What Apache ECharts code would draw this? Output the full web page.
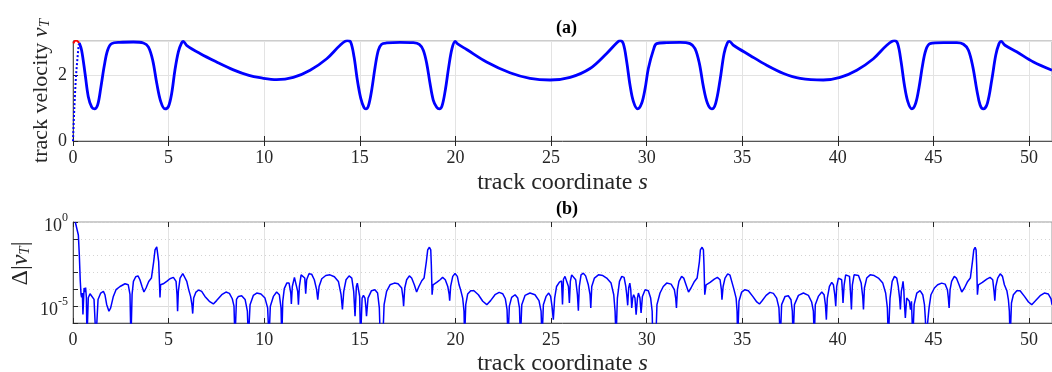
<!DOCTYPE html>
<html><head><meta charset="utf-8">
<script src="https://cdn.jsdelivr.net/npm/echarts@6/dist/echarts.min.js"></script>
<style>html,body{margin:0;padding:0;background:#fff}#c{width:1052px;height:372px}</style>
</head><body><div id="c"></div>
<script>
// ---------- panel (a): track velocity ----------
const sTop = [0.33,0.45,0.63,0.80,0.98,1.12,1.29,1.46,1.64,1.81,2.02,2.46,3.16,3.68,3.94,4.17,4.38,4.59,4.81,4.99,5.16,5.33,5.51,5.68,5.77,5.94,6.64,7.51,8.39,9.2,9.78,10.65,11.52,12.40,13.27,13.97,14.35,14.52,14.70,14.87,15.05,15.22,15.32,15.45,15.62,15.80,15.97,16.14,16.40,17.10,17.80,18.11,18.32,18.50,18.67,18.84,19.02,19.16,19.30,19.47,19.65,19.82,19.99,20.10,20.59,21.63,22.85,23.90,24.95,26.00,27.04,27.91,28.43,28.61,28.78,28.96,29.13,29.31,29.53,29.74,29.92,30.09,30.35,30.52,31.05,31.75,32.27,32.53,32.76,32.97,33.18,33.41,33.61,33.84,34.05,34.22,34.33,34.54,35.41,36.28,37.16,38.03,39.24,40.12,40.99,41.86,42.56,42.96,43.13,43.31,43.48,43.66,43.87,44.07,44.25,44.43,44.60,44.82,45.52,46.22,46.57,46.83,47.06,47.27,47.44,47.61,47.82,48.05,48.26,48.43,48.54,48.74,49.35,50.23,51.20];
const vTop = [2.99,2.77,2.06,1.35,1.03,0.98,1.10,1.65,2.31,2.77,2.97,3.01,3.02,2.99,2.87,2.46,1.76,1.20,0.98,1.05,1.45,2.16,2.72,2.99,3.04,2.92,2.67,2.41,2.17,2.00,1.93,1.87,1.94,2.16,2.51,2.92,3.06,3.02,2.56,1.86,1.30,1.02,0.98,1.07,1.55,2.26,2.77,2.95,2.99,3.01,3.00,2.95,2.77,2.36,1.76,1.25,1.03,0.98,1.07,1.55,2.26,2.82,3.04,2.97,2.79,2.41,2.08,1.91,1.86,1.94,2.21,2.67,2.99,3.06,2.97,2.41,1.71,1.20,0.98,1.15,1.60,2.21,2.77,2.97,3.00,3.01,2.97,2.82,2.36,1.65,1.15,0.98,1.15,1.86,2.67,2.99,3.04,2.92,2.61,2.31,2.06,1.91,1.86,1.94,2.16,2.51,2.92,3.06,2.97,2.41,1.71,1.20,0.98,1.15,1.65,2.31,2.77,2.97,3.00,3.00,2.95,2.77,2.26,1.55,1.10,0.98,1.15,1.86,2.62,2.97,3.04,2.92,2.72,2.41,2.16];
const sRed = [0.02,0.08,0.16,0.24,0.33];
const vRed = [2.98,3.04,3.07,3.04,2.99];
const sDot = [0,0.07,0.16,0.30];
const vDot = [0,1.0,2.0,2.95];

// ---------- panel (b): log10 of velocity error ----------
const sErr = [0.12,0.28,0.33,0.38,0.42,0.45,0.49,0.52,0.58,0.63,0.66,0.70,0.73,0.80,0.89,0.99,1.10,1.20,1.31,1.45,1.59,1.67,1.76,1.88,1.97,2.11,2.25,2.46,2.72,2.89,2.98,3.03,3.09,3.16,3.28,3.40,3.50,3.61,3.71,3.82,3.96,4.10,4.18,4.22,4.29,4.38,4.45,4.48,4.52,4.55,4.58,4.72,4.90,5.07,5.25,5.39,5.44,5.47,5.51,5.60,5.74,5.84,5.95,6.05,6.15,6.22,6.26,6.31,6.43,6.57,6.73,6.90,7.13,7.34,7.51,7.78,8.00,8.18,8.33,8.42,8.47,8.55,8.65,8.82,9.00,9.12,9.17,9.26,9.43,9.61,9.83,10.04,10.18,10.25,10.32,10.48,10.65,10.79,10.88,10.92,10.97,11.05,11.18,11.30,11.39,11.42,11.47,11.58,11.68,11.75,11.79,11.84,11.93,12.03,12.12,12.17,12.22,12.34,12.48,12.62,12.74,12.80,12.87,13.01,13.22,13.44,13.67,13.88,14.02,14.09,14.16,14.28,14.44,14.58,14.68,14.75,14.82,14.87,14.93,14.99,15.04,15.12,15.19,15.27,15.32,15.35,15.43,15.61,15.79,15.93,16.02,16.07,16.20,16.27,16.40,16.58,16.81,17.00,17.10,17.19,17.26,17.29,17.35,17.45,17.59,17.71,17.85,17.97,18.09,18.24,18.36,18.44,18.48,18.55,18.64,18.71,18.74,18.78,18.83,19.02,19.20,19.33,19.47,19.60,19.67,19.70,19.75,19.86,19.98,20.10,20.19,20.27,20.38,20.45,20.48,20.54,20.64,20.80,20.97,21.20,21.43,21.64,21.84,22.07,22.29,22.47,22.61,22.70,22.75,22.82,22.94,23.12,23.26,23.35,23.40,23.47,23.64,23.90,24.16,24.37,24.48,24.53,24.60,24.74,24.88,24.98,25.05,25.12,25.19,25.29,25.44,25.55,25.60,25.65,25.73,25.82,25.91,25.96,26.01,26.08,26.17,26.29,26.38,26.43,26.48,26.57,26.69,26.81,26.95,27.04,27.08,27.13,27.27,27.48,27.71,27.91,28.14,28.28,28.35,28.40,28.47,28.58,28.70,28.82,28.91,28.96,29.01,29.06,29.12,29.17,29.22,29.27,29.32,29.39,29.45,29.52,29.57,29.65,29.71,29.78,29.92,30.09,30.21,30.29,30.32,30.48,30.54,30.70,30.87,31.05,31.28,31.45,31.52,31.56,31.61,31.69,31.83,31.94,32.06,32.19,32.32,32.50,32.64,32.71,32.76,32.81,32.90,32.97,33.00,33.04,33.11,33.32,33.54,33.70,33.84,33.91,33.94,34.00,34.10,34.24,34.36,34.45,34.57,34.68,34.73,34.76,34.83,34.97,35.14,35.32,35.55,35.76,35.90,36.02,36.25,36.45,36.63,36.80,36.92,36.99,37.06,37.24,37.41,37.55,37.62,37.66,37.73,37.94,38.20,38.46,38.63,38.72,38.77,38.82,38.98,39.16,39.28,39.35,39.40,39.45,39.56,39.68,39.77,39.84,39.89,39.94,40.03,40.12,40.20,40.24,40.27,40.33,40.41,40.50,40.61,40.67,40.71,40.76,40.85,40.95,41.08,41.22,41.30,41.34,41.39,41.51,41.69,41.90,42.12,42.35,42.50,42.59,42.64,42.73,42.84,42.96,43.08,43.16,43.23,43.27,43.32,43.37,43.41,43.45,43.48,43.53,43.60,43.67,43.74,43.80,43.85,43.92,43.99,44.13,44.30,44.44,44.53,44.58,44.61,44.70,44.77,44.87,45.05,45.22,45.43,45.61,45.73,45.78,45.82,45.87,45.95,46.09,46.20,46.34,46.48,46.62,46.79,46.93,47.00,47.04,47.11,47.18,47.23,47.26,47.30,47.35,47.56,47.79,47.96,48.10,48.17,48.21,48.26,48.36,48.49,48.61,48.71,48.84,48.92,48.97,49.01,49.08,49.18,49.36,49.53,49.76,49.97,50.14,50.31,50.58,50.80,51.01,51.15,51.20];
const log10Err = [0.0,-0.77,-1.95,-3.5,-4.3,-4.48,-4.22,-5.5,-3.92,-4.16,-3.89,-4.5,-7,-4.5,-4.26,-4.32,-4.6,-7,-4.6,-4.22,-4.12,-4.32,-4.9,-5.3,-5.1,-4.42,-4.02,-3.83,-3.67,-3.73,-4.3,-7,-4.3,-3.53,-3.25,-3.2,-3.43,-3.83,-4.16,-3.92,-3.53,-3.33,-3.23,-2.35,-1.66,-1.48,-1.56,-2.35,-3.53,-4.48,-3.73,-3.67,-3.53,-3.37,-3.29,-3.53,-4.32,-5.3,-4.12,-3.33,-3.06,-3.14,-3.53,-4.02,-4.42,-4.91,-5.44,-4.52,-4.16,-4.04,-4.12,-4.42,-4.71,-4.87,-4.67,-4.32,-4.16,-4.24,-4.56,-5.0,-7,-4.6,-4.42,-4.38,-4.6,-5.3,-7,-4.91,-4.36,-4.22,-4.28,-4.52,-5.1,-7,-5.0,-4.42,-4.16,-4.32,-5.1,-7,-4.71,-3.96,-3.63,-3.63,-4.22,-4.87,-3.83,-3.29,-3.33,-4.12,-4.91,-3.83,-3.14,-3.04,-3.33,-4.26,-3.43,-3.08,-3.10,-3.43,-4.02,-4.62,-3.83,-3.37,-3.18,-3.14,-3.25,-3.53,-4.32,-5.2,-4.12,-3.43,-3.2,-3.33,-4.12,-5.6,-3.83,-3.63,-4.02,-4.42,-7,-4.52,-4.36,-4.52,-5.1,-5.6,-4.52,-4.08,-4.02,-4.22,-5.1,-7,-7,-4.91,-4.12,-3.73,-3.63,-3.67,-3.73,-3.92,-4.52,-5.0,-3.92,-3.43,-3.2,-3.33,-3.73,-4.16,-3.83,-3.49,-3.33,-3.23,-2.35,-1.66,-1.5,-1.66,-2.54,-4.32,-3.73,-3.59,-3.43,-3.29,-3.43,-3.83,-4.28,-4.67,-3.83,-3.23,-3.06,-3.23,-3.73,-4.02,-4.52,-5.3,-7,-4.91,-4.28,-4.08,-4.08,-4.32,-4.71,-4.91,-4.67,-4.32,-4.18,-4.26,-4.56,-5.2,-7,-5.0,-4.48,-4.32,-4.52,-5.1,-7,-4.91,-4.36,-4.22,-4.32,-4.67,-5.3,-7,-4.91,-4.42,-4.22,-4.42,-5.0,-5.8,-4.52,-3.83,-3.57,-3.5,-4.9,-3.4,-3.23,-3.33,-3.83,-4.81,-3.53,-3.14,-3.10,-3.43,-4.32,-5.27,-3.83,-3.14,-3.04,-3.20,-3.73,-4.32,-5.1,-3.83,-3.33,-3.14,-3.18,-3.33,-3.63,-4.32,-5.3,-7,-4.52,-3.53,-3.23,-3.29,-3.83,-4.32,-4.95,-3.92,-3.63,-4.02,-5.1,-4.52,-4.32,-4.52,-5.5,-4.52,-4.22,-4.52,-5.4,-4.42,-4.02,-4.08,-4.52,-5.3,-7,-7,-4.91,-4.22,-3.83,-3.63,-3.69,-4.02,-4.52,-5.1,-4.02,-3.53,-3.23,-3.33,-3.73,-4.16,-3.92,-3.53,-3.33,-3.23,-2.35,-1.66,-1.5,-1.66,-2.54,-4.32,-3.73,-3.59,-3.39,-3.29,-3.43,-4.02,-4.62,-3.83,-3.33,-3.08,-3.16,-3.53,-4.02,-4.52,-5.3,-7,-4.71,-4.16,-4.02,-4.08,-4.42,-4.75,-4.87,-4.71,-4.36,-4.18,-4.24,-4.52,-5.1,-7,-4.91,-4.42,-4.38,-4.62,-5.3,-7,-4.91,-4.36,-4.22,-4.36,-4.75,-5.3,-7,-4.91,-4.42,-4.16,-4.32,-4.91,-5.8,-4.52,-3.83,-3.59,-3.73,-4.32,-5.0,-3.83,-3.33,-3.23,-3.43,-4.12,-4.81,-3.73,-3.14,-3.04,-3.23,-4.32,-5.2,-3.73,-3.14,-3.04,-3.18,-3.63,-4.42,-5.2,-3.92,-3.33,-3.14,-3.18,-3.33,-3.63,-4.22,-5.1,-7,-4.52,-3.53,-3.23,-3.33,-3.83,-4.52,-5.2,-4.12,-3.83,-3.53,-4.02,-4.81,-5.7,-4.52,-4.42,-4.71,-5.2,-4.71,-7,-4.91,-4.22,-4.08,-4.32,-4.91,-5.8,-7,-7,-5.1,-4.32,-3.92,-3.73,-3.63,-3.69,-4.02,-4.52,-5.1,-4.02,-3.53,-3.23,-3.33,-3.73,-4.16,-3.92,-3.53,-3.33,-3.23,-2.35,-1.66,-1.5,-1.66,-2.54,-4.32,-3.73,-3.59,-3.39,-3.29,-3.43,-4.12,-4.67,-3.83,-3.33,-3.08,-3.23,-3.73,-4.08,-4.62,-5.3,-7,-4.81,-4.32,-4.08,-4.08,-4.42,-4.75,-4.91,-4.71,-4.38,-4.22,-4.28,-4.56,-4.91];

const xMax = 51.2;
const xTickStep = 5;
const vTickStep = 2;
const vMax = 3.05;

const zip = (a, b) => a.map((x, i) => [x, b[i]]);
const errPairs = sErr.map((s, i) => [s, Math.pow(10, log10Err[i])]);

const serif = 'Liberation Serif';
const ink = '#262626';
const gridCol = '#e3e3e3';

function xAx(grid, name, gap) {
  return {
    type: 'value', gridIndex: grid, min: 0, max: xMax, interval: xTickStep, position: 'bottom',
    axisLine: { show: true, onZero: false, lineStyle: { color: '#555', width: 1 } },
    axisTick: { show: true, inside: true, length: 5, lineStyle: { color: ink } },
    axisLabel: { showMaxLabel: false, fontFamily: serif, fontSize: 18, color: ink, margin: 8 },
    splitLine: { show: true, lineStyle: { color: gridCol, width: 1 } },
    name: name, nameLocation: 'middle', nameGap: gap,
    nameTextStyle: { rich: {
      n: { fontFamily: serif, fontSize: 24, color: ink },
      i: { fontFamily: serif, fontSize: 24, fontStyle: 'italic', color: ink } } }
  };
}
function xTop(grid) {
  return {
    type: 'value', gridIndex: grid, min: 0, max: xMax, interval: xTickStep, position: 'top',
    axisLine: { show: false }, axisLabel: { show: false }, splitLine: { show: false },
    axisTick: { show: true, inside: true, length: 5, lineStyle: { color: ink } }
  };
}

const supRich = {
  b: { fontFamily: serif, fontSize: 18, color: ink, padding: [8, 0, 0, 0] },
  e: { fontFamily: serif, fontSize: 12, color: ink, padding: [0, 0, 9, 0] }
};

const option = {
  animation: false,
  backgroundColor: '#fff',
  title: [
    { text: '(a)', left: 551, top: 14, textStyle: { fontFamily: serif, fontSize: 18, fontWeight: 'bold', color: '#000' } },
    { text: '(b)', left: 551, top: 195, textStyle: { fontFamily: serif, fontSize: 18, fontWeight: 'bold', color: '#000' } }
  ],
  grid: [
    { left: 73, top: 41, width: 979, height: 100, show: true, borderColor: '#9a9a9a', borderWidth: 1,
      backgroundColor: 'transparent', containLabel: false, outerBoundsMode: 'none' },
    { left: 73, top: 222, width: 979, height: 101, show: true, borderColor: '#9a9a9a', borderWidth: 1,
      backgroundColor: 'transparent', containLabel: false, outerBoundsMode: 'none' }
  ],
  xAxis: [
    xAx(0, '{n|track coordinate }{i|s}', 30),
    xAx(1, '{n|track coordinate }{i|s}', 29),
    xTop(0), xTop(1)
  ],
  yAxis: [
    {
      type: 'value', gridIndex: 0, min: 0, max: vMax, interval: vTickStep,
      axisLine: { show: true, lineStyle: { color: '#555' } },
      axisTick: { show: true, inside: true, length: 5, lineStyle: { color: ink } },
      axisLabel: { showMaxLabel: false, fontFamily: serif, fontSize: 18, color: ink, margin: 6 },
      splitLine: { show: true, lineStyle: { color: gridCol } },
      name: '{n|track velocity }{i|v}{t|T}', nameLocation: 'middle', nameGap: 20, nameRotate: 90,
      nameMoveOverlap: false,
      nameTextStyle: { rich: {
        n: { fontFamily: serif, fontSize: 22, color: ink },
        i: { fontFamily: serif, fontSize: 22, fontStyle: 'italic', color: ink },
        t: { fontFamily: serif, fontSize: 15, fontStyle: 'italic', color: ink, padding: [8, 0, 0, 0] } } }
    },
    {
      type: 'log', logBase: 10, gridIndex: 1, min: 1e-6, max: 1,
      axisLine: { show: true, lineStyle: { color: '#555' } },
      axisTick: { show: true, inside: true, length: 5, lineStyle: { color: ink } },
      axisLabel: { fontFamily: serif, fontSize: 18, color: ink, margin: 5, rich: supRich,
        formatter: function (v) {
          const e = Math.round(Math.log10(v));
          if (e === 0) return '{b|10}{e|0}';
          if (e === -5) return '{b|10}{e|-5}';
          return '';
        } },
      splitLine: { show: true, lineStyle: { color: '#d4d4d4', type: [1, 3] } },
      name: '{d|Δ|}{i|v}{t|T}{d||}', nameLocation: 'middle', nameGap: 40, nameRotate: 90,
      nameMoveOverlap: false,
      nameTextStyle: { padding: [0, 0, 0, 18], rich: {
        d: { fontFamily: serif, fontSize: 24, color: ink },
        i: { fontFamily: serif, fontSize: 24, fontStyle: 'italic', color: ink },
        t: { fontFamily: serif, fontSize: 15, fontStyle: 'italic', color: ink, padding: [9, 0, 0, 0] } } }
    },
    {
      type: 'log', logBase: 10, gridIndex: 1, min: 1e-6, max: 1, position: 'left',
      axisLine: { show: false }, axisTick: { show: false }, axisLabel: { show: false },
      splitLine: { show: true, lineStyle: { color: ['transparent', '#dcdcdc', 'transparent', 'transparent', 'transparent', 'transparent', 'transparent'], width: 1 } }
    }
  ],
  series: [
    { type: 'line', xAxisIndex: 0, yAxisIndex: 0, data: zip(sDot, vDot), showSymbol: false, smooth: 0.3,
      lineStyle: { color: '#0000ff', width: 2, type: 'dotted' }, z: 3 },
    { type: 'line', xAxisIndex: 0, yAxisIndex: 0, data: zip(sRed, vRed), showSymbol: false, smooth: 0.4,
      lineStyle: { color: '#ff0000', width: 2 }, z: 3 },
    { type: 'line', xAxisIndex: 0, yAxisIndex: 0, data: zip(sTop, vTop), showSymbol: false, smooth: 0.35,
      lineStyle: { color: '#0000ff', width: 2.8 }, z: 4 },
    { type: 'line', xAxisIndex: 1, yAxisIndex: 1, data: errPairs, showSymbol: false, smooth: false,
      lineStyle: { color: '#0000ff', width: 1.5 }, z: 4 }
  ]
};
const chart = echarts.init(document.getElementById('c'), null, { renderer: 'canvas' });
chart.setOption(option);
</script></body></html>
